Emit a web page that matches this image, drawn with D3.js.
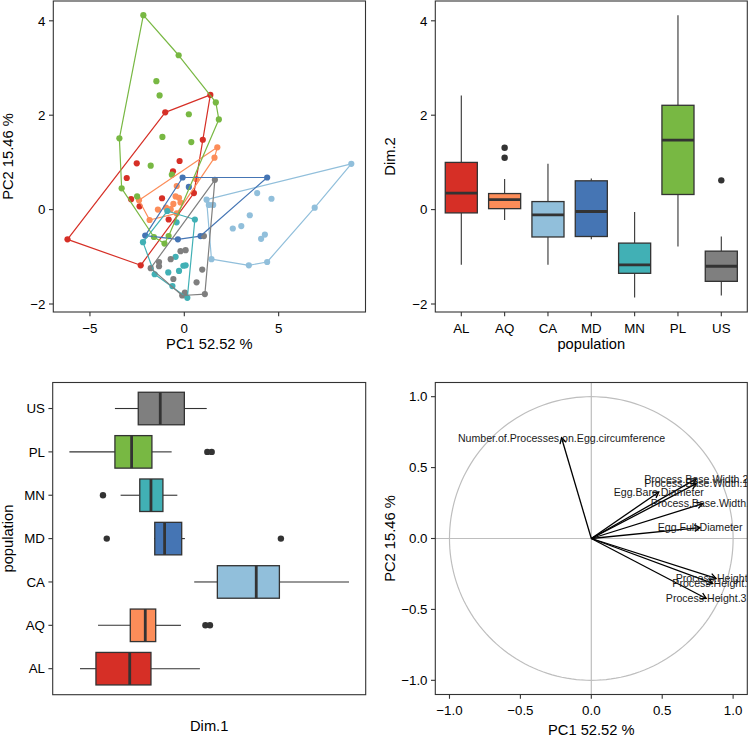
<!DOCTYPE html>
<html><head><meta charset="utf-8">
<script src="https://cdn.jsdelivr.net/npm/d3@7"></script>
<style>body{margin:0;background:#fff}svg{display:block}text{font-family:"Liberation Sans",Arial,Helvetica,sans-serif}</style>
</head><body><svg id="c" width="748" height="735"></svg>
<script>
// ---------- DATA ----------
const populations = ["AL","AQ","CA","MD","MN","PL","US"];
const popColors   = ["#D62F26","#FC8D59","#91BFDB","#4575B4","#41B0B5","#78B843","#7F7F7F"];

// PCA individual coordinates [PC1, PC2] per population
const indAL = [[-6.19,-0.63],[-1.01,2.06],[1.38,2.43],[0.98,1.48],[-2.52,0.98],[-0.25,1.03],[-0.60,0.81],[-3.05,0.67],[-2.82,0.22],[-1.18,0.24],[-2.37,0.07],[-0.83,-0.21],[0.51,0.35],[-2.31,-1.18]];
const indAQ = [[1.75,1.32],[1.60,1.10],[0.62,0.65],[-2.40,0.20],[-1.84,-0.22],[-0.40,0.50],[-0.28,0.25],[-0.20,0.15],[-0.46,0.28],[-1.40,0.00],[-0.97,0.04],[-0.72,0.01],[-0.58,0.12],[-0.40,-0.08]];
const indCA = [[8.85,0.97],[1.18,0.21],[1.30,0.10],[1.53,0.10],[3.86,0.35],[4.62,0.23],[3.47,-0.12],[3.02,-0.35],[2.57,-0.40],[4.27,-0.53],[4.07,-0.62],[6.91,0.04],[4.39,-1.11],[3.42,-1.18],[1.44,-1.05]];
const indMD = [[-0.09,0.68],[4.39,0.68],[0.24,0.48],[-2.07,-0.55],[-0.34,-0.63],[0.86,-0.56]];
const indMN = [[-0.90,-0.03],[0.56,-0.21],[-2.19,-0.69],[-1.57,-1.37],[-0.63,-1.62],[0.16,-1.87],[-0.46,-1.00],[-0.41,-0.27],[-0.85,-1.33],[-0.28,-1.30],[-0.05,-1.19],[0.07,-1.18]];
const indPL = [[-2.17,4.12],[-0.30,3.27],[-1.48,2.72],[-1.31,2.42],[1.67,2.27],[1.83,1.91],[0.24,2.02],[-1.16,1.54],[0.37,1.43],[-3.44,1.51],[-1.78,0.93],[-0.66,0.74],[-3.32,0.45],[-2.50,0.28],[-1.61,-0.58],[-1.05,-0.72],[-0.83,-0.56]];
const indUS = [[1.62,0.63],[1.04,-0.56],[-0.20,-0.88],[0.07,-0.86],[-0.72,-1.05],[-1.34,-1.11],[-1.34,-1.20],[-1.78,-1.24],[0.95,-1.27],[-0.58,-1.47],[0.65,-1.54],[0.03,-1.76],[-0.11,-1.82],[1.09,-1.79]];
const individuals = [indAL, indAQ, indCA, indMD, indMN, indPL, indUS];

// Boxplot summaries of Dim.2 by population (lower whisker, Q1, median, Q3, upper whisker)
const dim2Lower  = [-1.17,-0.22,-1.17,-0.63,-1.86,-0.78,-1.82];
const dim2Q1     = [-0.07, 0.02,-0.58,-0.57,-1.35, 0.32,-1.52];
const dim2Median = [ 0.35, 0.21,-0.11,-0.04,-1.17, 1.47,-1.20];
const dim2Q3     = [ 1.00, 0.34, 0.17, 0.61,-0.71, 2.21,-0.88];
const dim2Upper  = [ 2.42, 0.65, 0.97, 0.66,-0.05, 4.12,-0.57];
const dim2Outliers = [[],[1.10,1.31],[],[],[],[],[0.62]];

// Boxplot summaries of Dim.1 by population
const dim1Lower  = [-5.46,-4.51, 0.56,-1.56,-3.32,-6.02,-3.62];
const dim1Q1     = [-4.62,-2.81, 1.78,-1.52,-2.31,-3.62,-2.39];
const dim1Median = [-2.84,-2.02, 3.83,-1.00,-1.72,-2.74,-1.23];
const dim1Q3     = [-1.72,-1.47, 5.05,-0.10,-1.09,-1.67, 0.04];
const dim1Upper  = [ 0.86,-0.14, 8.72, 0.07,-0.33,-0.63, 1.22];
const dim1Outliers = [[],[1.15,1.39],[],[-4.05,5.13],[-4.25],[1.25,1.48],[]];
const dim1Domain = [-6.9, 9.6];

// Variable correlation circle
const varNames = ["Number.of.Processes.on.Egg.circumference","Process.Base.Width.2","Process.Base.Width.1","Egg.Bare.Diameter","Process.Base.Width.3","Egg.Full.Diameter","Process.Height.1","Process.Height.2","Process.Height.3"];
const varPC1 = [-0.21, 0.74, 0.74, 0.476, 0.786, 0.767, 0.88, 0.856, 0.81];
const varPC2 = [ 0.71, 0.42, 0.387, 0.328, 0.246, 0.077,-0.282,-0.317,-0.423];

const pcTicksX = [-5,0,5];
const pcTicksY = [-2,0,2,4];
const circTicks = [-1,-0.5,0,0.5,1];
const titlePC1 = "PC1 52.52 %", titlePC2 = "PC2 15.46 %";

// ---------- DRAWING ----------
const svg = d3.select("#c");
const TICK_FS = 13.3, TITLE_FS = 14.7, INK = "#000", FRAME = "#333";
const fmtNum = d3.format("");
const fmt1 = d3.format(".1f");

function expand(ext){ const s = ext[1]-ext[0]; return [ext[0]-0.05*s, ext[1]+0.05*s]; }

function frame(x0,y0,x1,y1){
  svg.append("rect").attr("x",x0).attr("y",y0).attr("width",x1-x0).attr("height",y1-y0)
    .attr("fill","none").attr("stroke",FRAME).attr("stroke-width",1.1);
}
function xTicks(scale, vals, yBottom, labelBaseline, fmt){
  vals.forEach(v=>{
    const x = scale(v);
    svg.append("line").attr("x1",x).attr("x2",x).attr("y1",yBottom).attr("y2",yBottom+4.3).attr("stroke",FRAME).attr("stroke-width",1.1);
    svg.append("text").attr("x",x).attr("y",labelBaseline).attr("text-anchor","middle")
      .attr("font-size",TICK_FS).attr("fill",INK).text(fmt(v));
  });
}
function yTicks(scale, vals, xLeft, fmt){
  vals.forEach(v=>{
    const y = scale(v);
    svg.append("line").attr("x1",xLeft-4.3).attr("x2",xLeft).attr("y1",y).attr("y2",y).attr("stroke",FRAME).attr("stroke-width",1.1);
    svg.append("text").attr("x",xLeft-7.8).attr("y",y).attr("dy","0.36em").attr("text-anchor","end")
      .attr("font-size",TICK_FS).attr("fill",INK).text(fmt(v));
  });
}
function xTitle(cx, baseline, t){
  svg.append("text").attr("x",cx).attr("y",baseline).attr("text-anchor","middle").attr("font-size",TITLE_FS).attr("fill",INK).text(t);
}
function yTitle(bx, cy, t){
  svg.append("text").attr("transform",`translate(${bx},${cy}) rotate(-90)`).attr("text-anchor","middle").attr("font-size",TITLE_FS).attr("fill",INK).text(t);
}

// ===== Panel 1: PCA individuals with hulls =====
{
  const L=53.3, R=365.5, T=1, B=312;
  const all = individuals.flat();
  const x = d3.scaleLinear().domain(expand(d3.extent(all,d=>d[0]))).range([L,R]);
  const y = d3.scaleLinear().domain(expand(d3.extent(all,d=>d[1]))).range([B,T]);
  const g = svg.append("g");
  individuals.forEach((pts,i)=>{
    g.selectAll(null).data(pts).enter().append("circle")
      .attr("cx",d=>x(d[0])).attr("cy",d=>y(d[1])).attr("r",3.1).attr("fill",popColors[i]);
  });
  individuals.forEach((pts,i)=>{
    const hull = d3.polygonHull(pts);
    g.append("path").attr("d","M"+hull.map(d=>[x(d[0]),y(d[1])].join(",")).join("L")+"Z")
      .attr("fill","none").attr("stroke",popColors[i]).attr("stroke-width",1.2).attr("stroke-linejoin","round");
  });
  frame(L,T,R,B);
  xTicks(x,pcTicksX,B,333.1,fmtNum);
  yTicks(y,pcTicksY,L,fmtNum);
  xTitle((L+R)/2,348.6,titlePC1);
  yTitle(12.5,(T+B)/2,titlePC2);
}

// generic box drawing
function drawBoxes(vertical, cat, val, lower,q1,med,q3,upper,outl, bw){
  populations.forEach((p,i)=>{
    const c = cat(p);
    const line = (a1,b1,a2,b2,w)=>{
      const l = svg.append("line").attr("stroke",FRAME).attr("stroke-width",w);
      if(vertical) l.attr("x1",a1).attr("y1",b1).attr("x2",a2).attr("y2",b2);
      else l.attr("x1",b1).attr("y1",a1).attr("x2",b2).attr("y2",a2);
    };
    line(c,val(lower[i]),c,val(q1[i]),1.1);
    line(c,val(q3[i]),c,val(upper[i]),1.1);
    const v1 = val(q1[i]), v3 = val(q3[i]);
    const r = svg.append("rect").attr("fill",popColors[i]).attr("stroke",FRAME).attr("stroke-width",1.3);
    if(vertical) r.attr("x",c-bw/2).attr("width",bw).attr("y",Math.min(v1,v3)).attr("height",Math.abs(v1-v3));
    else r.attr("y",c-bw/2).attr("height",bw).attr("x",Math.min(v1,v3)).attr("width",Math.abs(v1-v3));
    line(c-bw/2,val(med[i]),c+bw/2,val(med[i]),2.8);
    outl[i].forEach(o=>{
      const ci = svg.append("circle").attr("r",3.2).attr("fill",FRAME);
      if(vertical) ci.attr("cx",c).attr("cy",val(o)); else ci.attr("cx",val(o)).attr("cy",c);
    });
  });
}

// ===== Panel 2: Dim.2 boxplot =====
{
  const L=435.3, R=747.3, T=1, B=312;
  const x = d3.scalePoint().domain(populations).range([L,R]).padding(0.6);
  const ext = [d3.min(dim2Lower.concat(dim2Outliers.flat())), d3.max(dim2Upper.concat(dim2Outliers.flat()))];
  const all = individuals.flat();
  const y = d3.scaleLinear().domain(expand(d3.extent(all,d=>d[1]))).range([B,T]);
  drawBoxes(true, x, y, dim2Lower,dim2Q1,dim2Median,dim2Q3,dim2Upper,dim2Outliers, x.step()*0.74);
  frame(L,T,R,B);
  populations.forEach(p=>{
    svg.append("line").attr("x1",x(p)).attr("x2",x(p)).attr("y1",B).attr("y2",B+4.3).attr("stroke",FRAME).attr("stroke-width",1.1);
    svg.append("text").attr("x",x(p)).attr("y",333.1).attr("text-anchor","middle").attr("font-size",TICK_FS).attr("fill",INK).text(p);
  });
  yTicks(y,pcTicksY,L,fmtNum);
  xTitle((L+R)/2,348.6,"population");
  yTitle(394.5,(T+B)/2,"Dim.2");
}

// ===== Panel 3: Dim.1 boxplot (horizontal) =====
{
  const L=52.7, R=365.7, T=382.5, B=694.7;
  const yc = d3.scalePoint().domain(populations).range([B,T]).padding(0.6);
  const x = d3.scaleLinear().domain(dim1Domain).range([L,R]);
  drawBoxes(false, yc, x, dim1Lower,dim1Q1,dim1Median,dim1Q3,dim1Upper,dim1Outliers, yc.step()*0.75);
  frame(L,T,R,B);
  populations.forEach(p=>{
    svg.append("line").attr("x1",L-4.3).attr("x2",L).attr("y1",yc(p)).attr("y2",yc(p)).attr("stroke",FRAME).attr("stroke-width",1.1);
    svg.append("text").attr("x",L-7.8).attr("y",yc(p)).attr("dy","0.36em").attr("text-anchor","end").attr("font-size",TICK_FS).attr("fill",INK).text(p);
  });
  xTitle((L+R)/2,730.6,"Dim.1");
  yTitle(12.5,(T+B)/2,"population");
}

// ===== Panel 4: correlation circle =====
{
  const L=435.3, R=747.3, T=382.5, B=694.5;
  const x = d3.scaleLinear().domain([-1.1,1.1]).range([L,R]);
  const y = d3.scaleLinear().domain([-1.1,1.1]).range([B,T]);
  const defs = svg.append("defs");
  defs.append("clipPath").attr("id","clip4").append("rect").attr("x",L).attr("y",T).attr("width",R-L).attr("height",B-T);
  const g = svg.append("g").attr("clip-path","url(#clip4)");
  const circ = d3.range(0,361,2).map(a=>[Math.cos(a*Math.PI/180),Math.sin(a*Math.PI/180)]);
  g.append("path").attr("d","M"+circ.map(d=>[x(d[0]),y(d[1])].join(",")).join("L")+"Z")
    .attr("fill","none").attr("stroke","#BEBEBE").attr("stroke-width",1.2);
  g.append("line").attr("x1",L).attr("x2",R).attr("y1",y(0)).attr("y2",y(0)).attr("stroke","#BEBEBE").attr("stroke-width",1.2);
  g.append("line").attr("x1",x(0)).attr("x2",x(0)).attr("y1",T).attr("y2",B).attr("stroke","#BEBEBE").attr("stroke-width",1.2);
  varNames.forEach((n,i)=>{
    const x0=x(0), y0=y(0), x1=x(varPC1[i]), y1=y(varPC2[i]);
    g.append("line").attr("x1",x0).attr("y1",y0).attr("x2",x1).attr("y2",y1).attr("stroke","#000").attr("stroke-width",1.3);
    const ang = Math.atan2(y1-y0,x1-x0), len=6.5, wing=Math.PI/6;
    const a1=[x1-len*Math.cos(ang-wing), y1-len*Math.sin(ang-wing)];
    const a2=[x1-len*Math.cos(ang+wing), y1-len*Math.sin(ang+wing)];
    g.append("path").attr("d",`M${a1[0]},${a1[1]}L${x1},${y1}L${a2[0]},${a2[1]}`)
      .attr("fill","none").attr("stroke","#000").attr("stroke-width",1.3);
  });
  varNames.forEach((n,i)=>{
    g.append("text").attr("x",x(varPC1[i])).attr("y",y(varPC2[i])).attr("dy","0.36em")
      .attr("text-anchor","middle").attr("font-size",10.6).attr("fill","#1a1a1a").text(n);
  });
  frame(L,T,R,B);
  xTicks(x,circTicks,B,714.5,fmt1);
  yTicks(y,circTicks,L,fmt1);
  xTitle((L+R)/2,734.5,titlePC1);
  yTitle(394.5,(T+B)/2,titlePC2);
}
</script></body></html>
